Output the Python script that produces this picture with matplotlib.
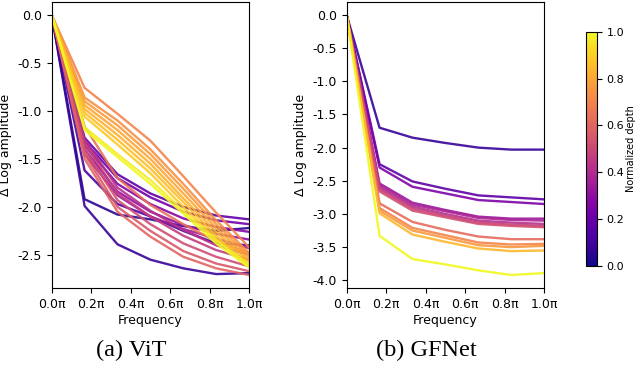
import numpy as np
import matplotlib
matplotlib.use("Agg")
import matplotlib.pyplot as plt
from matplotlib import cm, colors

plt.rcParams['axes.unicode_minus'] = False

# frequency positions (fraction of pi)
freq = [0, 1/6, 2/6, 3/6, 4/6, 5/6, 1]

# ViT: normalized depth of each curve and its delta log amplitude
vit_depth = [0.05, 0.08, 0.12, 0.18, 0.22, 0.27, 0.31, 0.35,
             0.42, 0.47, 0.52, 0.56, 0.60, 0.64,
             0.70, 0.74, 0.77, 0.80, 0.83, 0.86, 0.89, 0.97, 1.0]
vit_curves = [
    [0, -1.92, -2.08, -2.13, -2.20, -2.25, -2.22],
    [0, -1.99, -2.39, -2.55, -2.64, -2.70, -2.69],
    [0, -1.62, -1.97, -2.10, -2.25, -2.38, -2.40],
    [0, -1.28, -1.66, -1.86, -2.00, -2.09, -2.13],
    [0, -1.32, -1.70, -1.90, -2.05, -2.14, -2.18],
    [0, -1.36, -1.76, -1.97, -2.12, -2.21, -2.26],
    [0, -1.40, -1.84, -2.05, -2.19, -2.28, -2.34],
    [0, -1.45, -1.88, -2.10, -2.23, -2.33, -2.43],
    [0, -1.30, -1.80, -2.04, -2.24, -2.40, -2.50],
    [0, -1.34, -1.86, -2.10, -2.30, -2.45, -2.55],
    [0, -1.40, -1.93, -2.18, -2.38, -2.52, -2.62],
    [0, -1.45, -2.00, -2.25, -2.46, -2.59, -2.67],
    [0, -1.50, -2.05, -2.31, -2.52, -2.64, -2.71],
    [0, -1.16, -1.70, -1.98, -2.18, -2.36, -2.48],
    [0, -0.76, -1.03, -1.31, -1.68, -2.06, -2.42],
    [0, -0.86, -1.10, -1.40, -1.76, -2.14, -2.48],
    [0, -0.90, -1.15, -1.45, -1.81, -2.18, -2.51],
    [0, -0.94, -1.20, -1.50, -1.86, -2.22, -2.54],
    [0, -0.98, -1.25, -1.55, -1.91, -2.26, -2.57],
    [0, -1.02, -1.30, -1.60, -1.95, -2.30, -2.60],
    [0, -1.06, -1.35, -1.65, -2.00, -2.33, -2.63],
    [0, -1.17, -1.45, -1.72, -2.04, -2.35, -2.60],
    [0, -1.20, -1.48, -1.76, -2.07, -2.38, -2.63],
]

# GFNet
gf_depth = [0.08, 0.17, 0.25, 0.33, 0.38, 0.42, 0.48, 0.53, 0.62, 0.70, 0.76, 0.84, 1.0]
gf_curves = [
    [0, -1.70, -1.85, -1.93, -2.00, -2.03, -2.03],
    [0, -2.25, -2.51, -2.62, -2.72, -2.75, -2.78],
    [0, -2.30, -2.59, -2.69, -2.79, -2.82, -2.85],
    [0, -2.54, -2.83, -2.94, -3.04, -3.07, -3.07],
    [0, -2.57, -2.86, -2.96, -3.06, -3.09, -3.10],
    [0, -2.60, -2.89, -3.00, -3.10, -3.13, -3.15],
    [0, -2.63, -2.92, -3.03, -3.13, -3.16, -3.18],
    [0, -2.66, -2.95, -3.05, -3.15, -3.18, -3.20],
    [0, -2.84, -3.12, -3.24, -3.34, -3.38, -3.38],
    [0, -2.91, -3.21, -3.32, -3.43, -3.46, -3.45],
    [0, -2.95, -3.25, -3.36, -3.47, -3.50, -3.48],
    [0, -2.99, -3.31, -3.42, -3.52, -3.56, -3.55],
    [0, -3.33, -3.68, -3.76, -3.85, -3.92, -3.89],
]

xticks = [0, 0.2, 0.4, 0.6, 0.8, 1.0]
xtick_labels = ['0.0π', '0.2π', '0.4π', '0.6π', '0.8π', '1.0π']

cmap = plt.get_cmap('plasma')
norm = colors.Normalize(0, 1)

fig = plt.figure(figsize=(6.36, 3.82), dpi=100)
ax1 = fig.add_axes([0.0813, 0.246, 0.3102, 0.749])
ax2 = fig.add_axes([0.545, 0.246, 0.3107, 0.749])
cax = fig.add_axes([0.921, 0.3037, 0.0173, 0.613])

for ax, depths, curves, yt in [(ax1, vit_depth, vit_curves, np.arange(0, -2.6, -0.5)),
                               (ax2, gf_depth, gf_curves, np.arange(0, -4.1, -0.5))]:
    for d, c in zip(depths, curves):
        ax.plot(freq, c, color=cmap(norm(d)), lw=1.7, alpha=0.9)
    ax.set_xlim(0, 1)
    ax.set_xticks(xticks)
    ax.set_xticklabels(xtick_labels)
    ax.set_yticks(yt)
    ax.set_yticklabels(['%.1f' % v if abs(v) > 1e-9 else '0.0' for v in yt])
    ax.set_xlabel('Frequency', fontsize=9, labelpad=2)
    ax.set_ylabel('Δ Log amplitude', fontsize=9, labelpad=4)
    ax.tick_params(labelsize=9)

sm = cm.ScalarMappable(norm=norm, cmap=cmap)
cb = fig.colorbar(sm, cax=cax)
cb.set_ticks([0, 0.2, 0.4, 0.6, 0.8, 1.0])
cb.ax.tick_params(labelsize=8)
cb.set_label('Normalized depth', fontsize=7, labelpad=1)

fig.text(131 / 636, 1 - 350 / 382, '(a) ViT', family='Liberation Serif', fontsize=17.5,
         ha='center', va='center')
fig.text(426 / 636, 1 - 350 / 382, '(b) GFNet', family='Liberation Serif', fontsize=17.5,
         ha='center', va='center')

fig.savefig('out.png', dpi=100)
